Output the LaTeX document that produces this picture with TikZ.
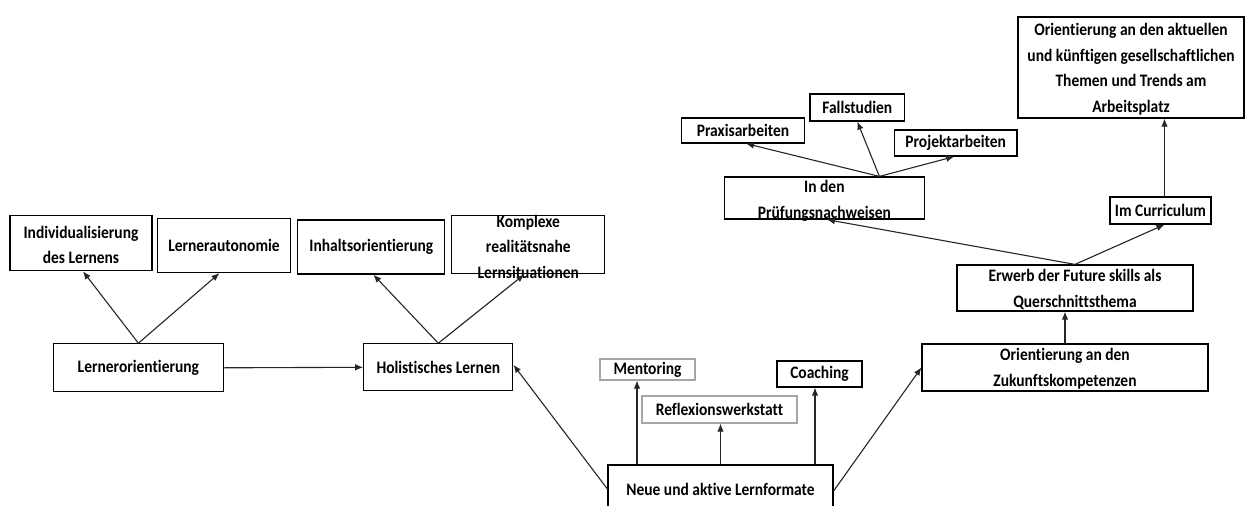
\documentclass[tikz,border=0pt]{standalone}
\usepackage{fontspec}
\setmainfont{Carlito}[Ligatures=NoCommon,FakeStretch=0.885]
\usetikzlibrary{arrows.meta}
\begin{document}
\begin{tikzpicture}[x=1pt,y=-1pt,
  box/.style={draw=black,line width=1.2pt,rectangle,inner sep=0pt},
  graybox/.style={box,draw=black!35},
  txt/.style={inner sep=0pt,align=center,text=black,font=\fontsize{17.5}{25.5}\selectfont\bfseries},
  arr/.style={line width=1.1pt,draw=black!85,-{Latex[length=8pt,width=6.5pt]}}]
\useasboundingbox (0,0) rectangle (1248,506);
\clip (0,0) rectangle (1248,506);
% left part
\node[box,minimum width=142pt,minimum height=55pt,label={[txt,yshift=-1.5pt]center:Individualisierung\\des Lernens}] (ind) at (81,243.2) {};
\node[box,minimum width=133pt,minimum height=54pt,label={[txt]center:Lernerautonomie}] (la) at (224,245.5) {};
\node[box,minimum width=147pt,minimum height=54pt,label={[txt]center:Inhaltsorientierung}] (io) at (371.3,247) {};
\node[box,minimum width=153pt,minimum height=58pt,label={[txt,yshift=-2pt]center:Komplexe\\realitätsnahe\\Lernsituationen}] (kr) at (528.3,244.8) {};
\node[box,minimum width=170pt,minimum height=48pt,label={[txt]center:Lernerorientierung}] (lo) at (138.4,367.8) {};
\node[box,minimum width=149pt,minimum height=47pt,label={[txt]center:Holistisches Lernen}] (hl) at (438.3,367.3) {};
% bottom middle
\node[box,minimum width=225pt,minimum height=46pt,label={[txt,yshift=-1pt]center:Neue und aktive Lernformate}] (na) at (720.5,488) {};
\node[graybox,minimum width=95pt,minimum height=21pt,label={[txt]center:Mentoring}] (me) at (647.5,369.5) {};
\node[graybox,minimum width=155pt,minimum height=27pt,label={[txt]center:Reflexionswerkstatt}] (rw) at (719.5,409.5) {};
\node[box,minimum width=85pt,minimum height=26pt,label={[txt]center:Coaching}] (co) at (819.5,374) {};
% right part
\node[box,minimum width=286pt,minimum height=47pt,label={[txt,yshift=-1pt]center:Orientierung an den\\Zukunftskompetenzen}] (oz) at (1065,367.5) {};
\node[box,minimum width=236pt,minimum height=46pt,label={[txt,yshift=-1.5pt]center:Erwerb der Future skills als\\Querschnittsthema}] (er) at (1075,288) {};
\node[box,minimum width=101pt,minimum height=27pt,label={[txt]center:Im Curriculum}] (ic) at (1160.5,210.5) {};
\node[box,minimum width=226pt,minimum height=101pt,label={[txt,yshift=-1.5pt]center:Orientierung an den aktuellen\\und künftigen gesellschaftlichen\\Themen und Trends am\\Arbeitsplatz}] (oa) at (1131,67.5) {};
\node[box,minimum width=200pt,minimum height=42pt,label={[txt,yshift=-3pt]center:In den\\Prüfungsnachweisen}] (pn) at (824.4,198) {};
\node[box,minimum width=122.7pt,minimum height=25pt,label={[txt]center:Praxisarbeiten}] (pa) at (743,130.5) {};
\node[box,minimum width=94.5pt,minimum height=27pt,label={[txt]center:Fallstudien}] (fs) at (857.3,107.5) {};
\node[box,minimum width=122.7pt,minimum height=26pt,label={[txt]center:Projektarbeiten}] (pj) at (955.7,143) {};
% connectors
\draw[arr] (lo.north) -- ([xshift=2pt]ind.south);
\draw[arr] (lo.north) -- ([xshift=-4.5pt]la.south);
\draw[arr] (lo.east) -- (hl.west);
\draw[arr] (hl.north) -- ([xshift=2pt]io.south);
\draw[arr] (hl.north) -- ([xshift=-4pt]kr.south);
\draw[arr] ([yshift=-1pt]na.west) -- ([yshift=2.5pt]hl.east);
\draw[arr] ([xshift=-83.5pt]na.north) -- ([xshift=-83.5pt]na.north |- me.south);
\draw[arr] (na.north) -- (na.north |- rw.south);
\draw[arr] ([xshift=94.5pt]na.north) -- ([xshift=94.5pt]na.north |- co.south);
\draw[arr] ([yshift=-3pt]na.east) -- (oz.west);
\draw[arr] (oz.north) -- (oz.north |- er.south);
\draw[arr] (er.north) -- ([xshift=4pt]ic.south);
\draw[arr] (er.north) -- ([xshift=2.5pt]pn.south);
\draw[arr] ([xshift=4pt]ic.north) -- ([xshift=4pt]ic.north |- oa.south);
\draw[arr] ([xshift=55pt]pn.north) -- ([xshift=3pt]pa.south);
\draw[arr] ([xshift=55pt]pn.north) -- (fs.south);
\draw[arr] ([xshift=55pt]pn.north) -- ([xshift=-1.5pt]pj.south);
\end{tikzpicture}
\end{document}
